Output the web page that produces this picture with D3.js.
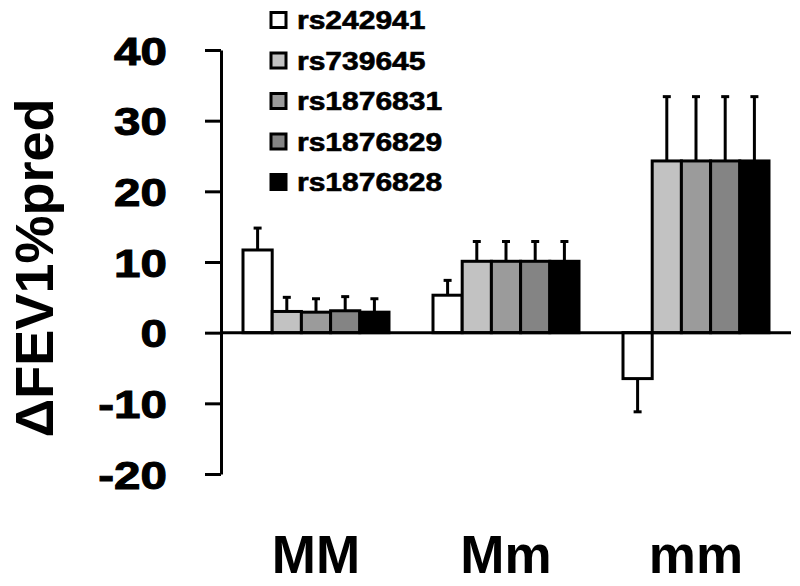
<!DOCTYPE html>
<html>
<head>
<meta charset="utf-8">
<script src="https://cdn.jsdelivr.net/npm/d3@7"></script>
<style>
  body { margin: 0; background: #fff; }
  svg text { font-family: "Liberation Sans", Arial, sans-serif; font-weight: bold; fill: #000; }
</style>
</head>
<body>
<svg id="chart" width="800" height="586"></svg>
<script>
// genotype groups and SNPs
let categories = ['MM', 'Mm', 'mm'];
let snps = ['rs242941', 'rs739645', 'rs1876831', 'rs1876829', 'rs1876828'];
let colors = ['#ffffff', '#c2c2c2', '#9b9b9b', '#848484', '#000000'];

// mean change in FEV1 %pred, one array per SNP (MM, Mm, mm)
let rs242941 = [11.7, 5.3, -6.5];
let rs739645 = [3.0, 10.1, 24.3];
let rs1876831 = [2.9, 10.1, 24.3];
let rs1876829 = [3.1, 10.1, 24.3];
let rs1876828 = [2.9, 10.1, 24.3];

// error bar (SE)
let rs242941Err = [3.1, 2.1, 4.7];
let rs739645Err = [2.0, 2.8, 9.1];
let rs1876831Err = [1.9, 2.8, 9.1];
let rs1876829Err = [2.0, 2.8, 9.1];
let rs1876828Err = [1.9, 2.8, 9.1];

let yTicks = [-20, -10, 0, 10, 20, 30, 40];

let values = [rs242941, rs739645, rs1876831, rs1876829, rs1876828];
let errors = [rs242941Err, rs739645Err, rs1876831Err, rs1876829Err, rs1876828Err];

let rows = [];
categories.forEach(function (c, ci) {
  snps.forEach(function (s, si) {
    rows.push({ cat: c, snp: s, value: values[si][ci], err: errors[si][ci], color: colors[si] });
  });
});

let svg = d3.select('#chart');

let x0 = d3.scaleBand()
  .domain(categories)
  .range([221, 791])
  .paddingInner(0.2316)
  .paddingOuter(0.1158);

let x1 = d3.scaleBand()
  .domain(snps)
  .range([0, x0.bandwidth()]);

let y = d3.scaleLinear()
  .domain([-20, 40])
  .range([474, 50]);

// y axis
let yAxis = svg.append('g')
  .attr('transform', 'translate(221,0)')
  .call(d3.axisLeft(y)
    .tickValues(yTicks)
    .tickFormat(function (d) { return String(d); })
    .tickSize(16).tickPadding(38).tickSizeOuter(0));
yAxis.select('.domain').attr('stroke', '#000').attr('stroke-width', 3);
yAxis.selectAll('.tick line').attr('stroke', '#000').attr('stroke-width', 3);
yAxis.selectAll('.tick text')
  .attr('font-size', 39)
  .attr('font-family', '"Liberation Sans", Arial, sans-serif')
  .attr('font-weight', 'bold')
  .attr('fill', '#000')
  .attr('stroke', '#000')
  .attr('stroke-width', 1)
  .attr('dy', '0.36em')
  .each(function () {
    let t = d3.select(this);
    let xx = +t.attr('x');
    t.attr('x', xx / 1.22).attr('transform', 'scale(1.22,1)');
  });

// error bars
let eb = svg.append('g');
rows.forEach(function (d) {
  let cx = x0(d.cat) + x1(d.snp) + x1.bandwidth() / 2;
  let end = d.value >= 0 ? d.value + d.err : d.value - d.err;
  eb.append('line')
    .attr('x1', cx).attr('x2', cx)
    .attr('y1', y(d.value)).attr('y2', y(end))
    .attr('stroke', '#000').attr('stroke-width', 3);
  eb.append('line')
    .attr('x1', cx - 4).attr('x2', cx + 4)
    .attr('y1', y(end)).attr('y2', y(end))
    .attr('stroke', '#000').attr('stroke-width', 3);
});

// bars
svg.append('g').selectAll('rect')
  .data(rows)
  .enter()
  .append('rect')
  .attr('x', function (d) { return x0(d.cat) + x1(d.snp); })
  .attr('y', function (d) { return y(Math.max(0, d.value)); })
  .attr('width', x1.bandwidth())
  .attr('height', function (d) { return Math.abs(y(d.value) - y(0)); })
  .attr('fill', function (d) { return d.color; })
  .attr('stroke', '#000')
  .attr('stroke-width', 3);

// zero line
svg.append('line')
  .attr('x1', 221).attr('x2', 791)
  .attr('y1', y(0)).attr('y2', y(0))
  .attr('stroke', '#000').attr('stroke-width', 3);

// category labels
svg.append('g').selectAll('text')
  .data(categories)
  .enter()
  .append('text')
  .attr('x', function (d) { return x0(d) + x0.bandwidth() / 2; })
  .attr('y', 573)
  .attr('text-anchor', 'middle')
  .attr('font-size', 53)
  .text(function (d) { return d; });

// y label
svg.append('text')
  .attr('transform', 'translate(53,268) rotate(-90)')
  .attr('text-anchor', 'middle')
  .attr('font-size', 54)
  .text('\u0394FEV1%pred');

// legend
let legend = svg.append('g').selectAll('.legend')
  .data(snps)
  .enter()
  .append('g')
  .attr('class', 'legend')
  .attr('transform', function (d, i) { return 'translate(271,' + (20 + i * 40.5) + ')'; });

legend.append('rect')
  .attr('x', 0).attr('y', -7.5)
  .attr('width', 15).attr('height', 15)
  .attr('fill', function (d, i) { return colors[i]; })
  .attr('stroke', '#000')
  .attr('stroke-width', 3);

legend.append('text')
  .attr('x', 26 / 1.2)
  .attr('y', 0)
  .attr('dy', '0.36em')
  .attr('font-size', 25)
  .attr('stroke', '#000')
  .attr('stroke-width', 0.6)
  .attr('transform', 'scale(1.2,1)')
  .text(function (d) { return d; });
</script>
</body>
</html>
